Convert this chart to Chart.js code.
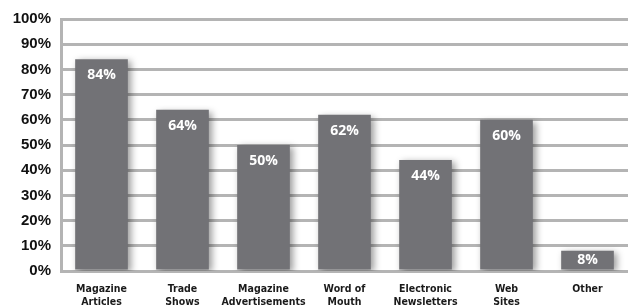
<!DOCTYPE html>
<html>
<head>
<meta charset="utf-8">
<script src="https://cdn.jsdelivr.net/npm/chart.js@4"></script>
<style>
  html, body { margin: 0; padding: 0; background: #fff; }
  #wrap { width: 628px; height: 308px; }
</style>
</head>
<body>
<div id="wrap"><canvas id="chart"></canvas></div>
<script>
// ── Data ───────────────────────────────────────────────────────────────────────
const CATEGORIES = [
  ['Magazine', 'Articles'],
  ['Trade', 'Shows'],
  ['Magazine', 'Advertisements'],
  ['Word of', 'Mouth'],
  ['Electronic', 'Newsletters'],
  ['Web', 'Sites'],
  ['Other'],
];
const VALUES = [84, 64, 50, 62, 44, 60, 8];
const Y_TICKS = [0, 10, 20, 30, 40, 50, 60, 70, 80, 90, 100];

const BAR_COLOR = '#727276';
const GRID_COLOR = '#b4b4b4';

// ── Plugins ────────────────────────────────────────────────────────────────────
const barShadow = {
  id: 'barShadow',
  beforeDatasetsDraw(chart) {
    const ctx = chart.ctx;
    ctx.save();
    ctx.shadowColor = 'rgba(0,0,0,0.4)';
    ctx.shadowBlur = 7;
    ctx.shadowOffsetX = 3;
    ctx.shadowOffsetY = 2;
  },
  afterDatasetsDraw(chart) {
    chart.ctx.restore();
  },
};

const valueLabels = {
  id: 'valueLabels',
  afterDraw(chart) {
    const ctx = chart.ctx;
    const meta = chart.getDatasetMeta(0);
    ctx.save();
    ctx.fillStyle = '#ffffff';
    ctx.font = 'bold 14px "Open Sans", "Liberation Sans", sans-serif';
    ctx.textAlign = 'center';
    ctx.textBaseline = 'middle';
    meta.data.forEach((bar, i) => {
      const h = bar.base - bar.y;
      const yMid = bar.y + Math.min(16, h / 2);
      ctx.fillText(VALUES[i] + '%', bar.x, yMid);
    });
    ctx.restore();
  },
};

// ── Chart ──────────────────────────────────────────────────────────────────────
new Chart(document.getElementById('chart'), {
  type: 'bar',
  data: {
    labels: CATEGORIES,
    datasets: [{
      data: VALUES,
      backgroundColor: BAR_COLOR,
      borderWidth: 0,
      barPercentage: 0.65,
      categoryPercentage: 1,
    }],
  },
  options: {
    responsive: true,
    maintainAspectRatio: false,
    animation: false,
    layout: { padding: { top: 15, right: 0, bottom: 0, left: 0 } },
    plugins: {
      legend: { display: false },
      tooltip: { enabled: false },
    },
    scales: {
      x: {
        afterFit(scale) { scale.height = 37; },
        grid: { display: false, drawTicks: false },
        border: { display: false },
        ticks: {
          padding: 11,
          maxRotation: 0,
          autoSkip: false,
          color: '#1a1a1a',
          font: { family: '"Liberation Sans Narrow", "DejaVu Sans Condensed", sans-serif', size: 10.5, weight: 'bold', lineHeight: 1.3 },
        },
      },
      y: {
        min: 0,
        max: 100,
        afterFit(scale) { scale.width = 61; },
        afterBuildTicks(scale) { scale.ticks = Y_TICKS.map(v => ({ value: v })); },
        grid: { color: GRID_COLOR, lineWidth: 3, drawTicks: false },
        border: { display: true, color: GRID_COLOR, width: 3 },
        ticks: {
          padding: 10,
          color: '#111111',
          font: { family: '"Liberation Sans", Arial, sans-serif', size: 15, weight: 'bold' },
          callback: (v) => v + '%',
        },
      },
    },
  },
  plugins: [barShadow, valueLabels],
});
</script>
</body>
</html>
